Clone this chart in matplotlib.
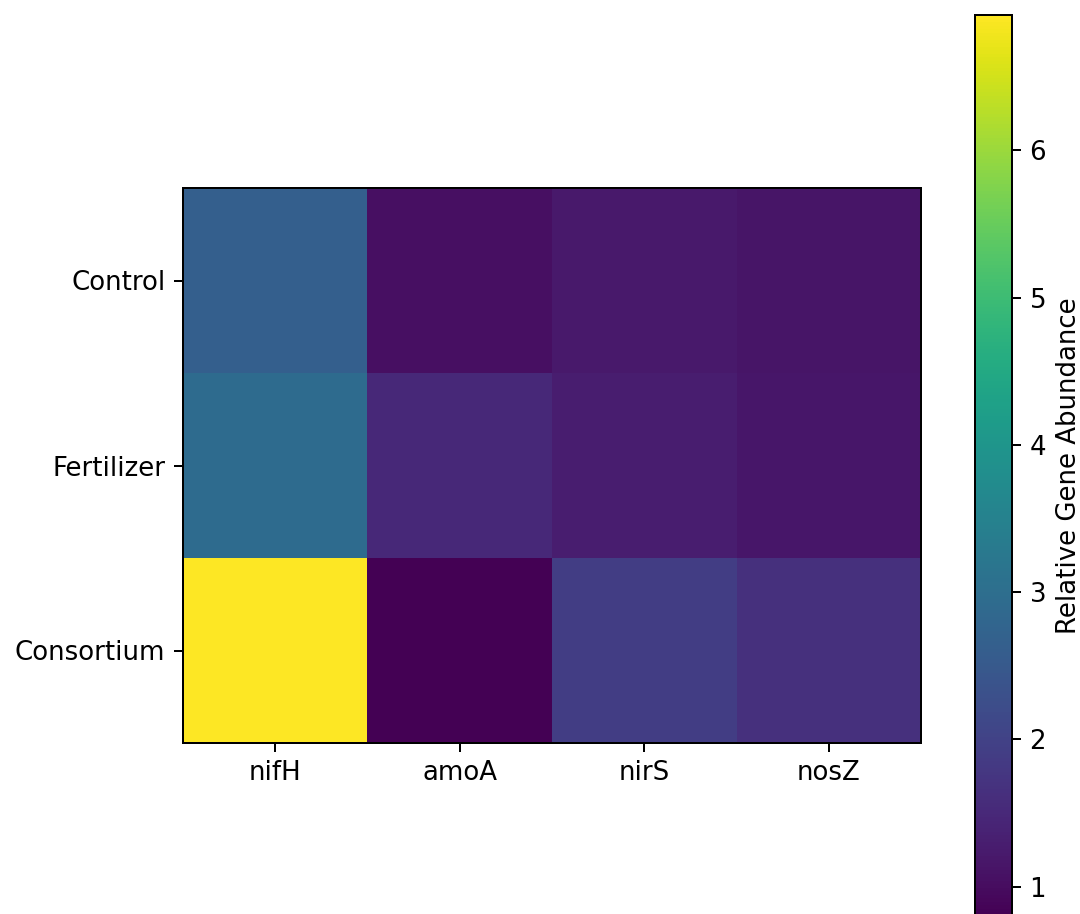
import matplotlib
matplotlib.use("Agg")
import matplotlib.pyplot as plt
import numpy as np

treatments = ["Control", "Fertilizer", "Consortium"]
genes = ["nifH", "amoA", "nirS", "nosZ"]
control_vals = [2.65, 1.05, 1.22, 1.15]
fertilizer_vals = [2.95, 1.50, 1.28, 1.18]
consortium_vals = [6.92, 0.80, 1.90, 1.65]
cbar_label = "Relative Gene Abundance"

data = np.array([control_vals, fertilizer_vals, consortium_vals])

plt.rcParams["font.size"] = 10.4
fig = plt.figure(figsize=(6, 914 / 180), dpi=180)
ax = fig.add_axes([183 / 1080, 171 / 914, 738 / 1080, 555 / 914])
im = ax.imshow(data, cmap="viridis", aspect="auto")
ax.set_xticks(range(len(genes)))
ax.set_xticklabels(genes)
ax.set_yticks(range(len(treatments)))
ax.set_yticklabels(treatments)

cax = fig.add_axes([975 / 1080, -2 / 914, 37 / 1080, 901 / 914])
cb = fig.colorbar(im, cax=cax)
cb.set_label(cbar_label)

fig.savefig("out.png", dpi=180)
